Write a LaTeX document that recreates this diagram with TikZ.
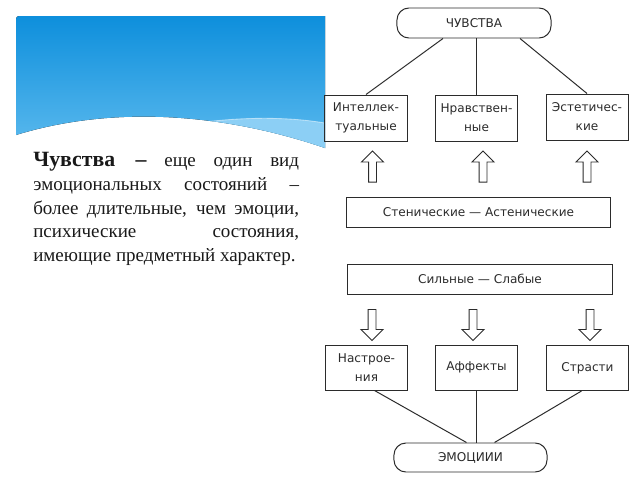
\documentclass[tikz,border=0pt]{standalone}
\usepackage{fontspec}
\setmainfont{Liberation Serif}
\newfontfamily\schemefont{DejaVu Sans}
\usetikzlibrary{shapes.arrows,positioning}
\definecolor{slideblue}{HTML}{0A8DDB}
\definecolor{slidelight}{HTML}{5CBAEE}
\definecolor{slidepale}{HTML}{8CCFF5}
\definecolor{inkgray}{HTML}{2B2B2B}

\begin{document}
\begin{tikzpicture}[
  x=0.025cm, y=-0.025cm,
  box/.style={draw=inkgray, line width=0.7pt, minimum width=2.05cm, minimum height=1.15cm, align=center, inner sep=1pt, text=inkgray, font=\schemefont\fontsize{8.6}{13.5}\selectfont},
  wide/.style={box, minimum width=6.6cm, minimum height=0.75cm},
  oval/.style={box, rounded corners=0.3cm, minimum width=3.85cm, minimum height=0.75cm},
  uparrow/.style={single arrow, draw=inkgray, line width=0.7pt, minimum height=0.775cm, minimum width=0.525cm, single arrow head extend=0.175cm, inner sep=0.0875cm, shape border rotate=90},
  downarrow/.style={uparrow, shape border rotate=270},
  link/.style={draw=inkgray, line width=0.7pt},
]
\useasboundingbox[fill=white] (0,0) rectangle (640,480);

% slide header
\begin{scope}
  \clip (16,135) -- (16,19) arc[start angle=180, end angle=270, radius=3] -- (325,16) -- (325,148)
    .. controls (220,112) and (110,106) .. cycle;
  \fill[top color=slideblue, bottom color=slidelight] (0,10) rectangle (330,150);
  \fill[slidepale] (190,124) .. controls (250,115) and (300,118) .. (330,124) -- (330,160) -- (190,160) -- cycle;
  \draw[white, opacity=0.5, line width=0.6pt] (190,124) .. controls (250,115) and (300,118) .. (330,124);
\end{scope}

\node[anchor=north west, text width=189pt, align=justify, inner sep=0pt, text=black!90, font=\fontsize{13.5}{16.9}\selectfont] (defn) at (33,152)
  {{\bfseries\fontsize{15.5}{16.9}\selectfont Чувства –} еще один вид\linebreak
   эмоциональных состояний –\linebreak
   более длительные, чем эмоции,\linebreak
   психические состояния,\linebreak
   имеющие предметный характер.};

\node[oval] (chuv) at (474,23) {ЧУВСТВА};
\node[box] (intel) at (366,118) {Интеллек-\\туальные};
\node[box] (nrav) at (476.5,118) {Нравствен-\\ные};
\node[box] (estet) at (587,117) {Эстетичес-\\кие};

\node[uparrow] (up1) at (372.5,168.5) {};
\node[uparrow] (up2) at (483,168.5) {};
\node[uparrow] (up3) at (587,168.5) {};

\node[wide, minimum width=6.575cm] (sten) at (478.5,212) {Стенические — Астенические};
\node[wide] (siln) at (480,279) {Сильные — Слабые};

\node[downarrow] (dn1) at (372,323) {};
\node[downarrow] (dn2) at (473,323) {};
\node[downarrow] (dn3) at (590,323) {};

\node[box, minimum height=1.125cm] (nastr) at (366.5,367.5) {Настрое-\\ния};
\node[box, minimum height=1.125cm] (affekt) at (476.5,367.5) {Аффекты};
\node[box, minimum height=1.125cm] (strast) at (587.5,368) {Страсти};
\node[oval, minimum width=3.825cm, minimum height=0.725cm] (emoc) at (470.5,457.5) {ЭМОЦИИИ};

\draw[link] ([xshift=-0.775cm]chuv.south) -- (intel.north);
\draw[link] (nrav.north |- chuv.south) -- (nrav.north);
\draw[link] ([xshift=1.15cm]chuv.south) -- (estet.north);

\draw[link] ([xshift=0.2cm]nastr.south) -- ([xshift=-0.1cm]emoc.north);
\draw[link] (affekt.south) -- (affekt.south |- emoc.north);
\draw[link] ([xshift=-0.15cm]strast.south) -- ([xshift=0.6cm]emoc.north);
\end{tikzpicture}
\end{document}
